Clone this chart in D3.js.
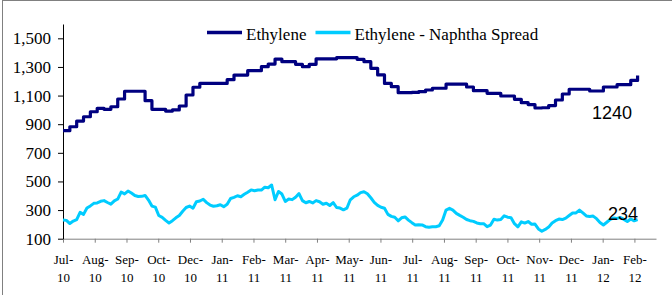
<!DOCTYPE html>
<html>
<head>
<meta charset="utf-8">
<script src="https://cdnjs.cloudflare.com/ajax/libs/d3/7.8.5/d3.min.js"></script>
<style>
body { margin: 0; background: #fff; }
text { font-family: "Liberation Serif", "Times New Roman", serif; fill: #000; }
</style>
</head>
<body>
<script>
//settings
var settings = {
  width: 672,
  height: 295,
  left: 63,
  right: 656,
  top: 24,
  bottom: 238.7,
  span: 18.1,      // data runs from first tick to just past the last one
  axisEnd: 18.68
}

//tick labels
var monthLabels = ['Jul-','Aug-','Sep-','Oct-','Dec-','Jan-','Feb-','Mar-','Apr-','May-','Jun-','Jul-','Aug-','Sep-','Oct-','Nov-','Dec-','Jan-','Feb-'];
var yearLabels = ['10','10','10','10','10','11','11','11','11','11','11','11','11','11','11','11','11','12','12'];
var yTicks = [100, 300, 500, 700, 900, 1100, 1300, 1500];

//series (weekly ethylene, spread sampled twice a week)
var seriesNames = ['Ethylene', 'Ethylene - Naphtha Spread'];
var ethylene = [855, 882, 922, 952, 987, 1011, 1004, 1022, 1076, 1130,
  1130, 1130, 1064, 1004, 1004, 992, 1000, 1027, 1104, 1158,
  1185, 1185, 1185, 1185, 1211, 1243, 1243, 1274, 1274, 1302,
  1320, 1355, 1337, 1337, 1318, 1302, 1318, 1357, 1357, 1357,
  1365, 1365, 1365, 1353, 1337, 1290, 1244, 1185, 1162, 1120,
  1120, 1122, 1127, 1139, 1151, 1151, 1180, 1180, 1180, 1160,
  1134, 1134, 1116, 1116, 1097, 1097, 1074, 1050, 1037, 1013,
  1015, 1030, 1069, 1111, 1144, 1144, 1144, 1132, 1132, 1160,
  1160, 1176, 1176, 1206, 1240];
var spread = [230, 228, 206, 223, 233, 284, 270, 314, 329, 347,
  350, 361, 366, 353, 341, 364, 377, 426, 413, 433,
  419, 402, 395, 396, 402, 370, 328, 321, 262, 249,
  228, 210, 226, 246, 262, 292, 318, 328, 313, 358,
  363, 376, 352, 335, 327, 330, 337, 324, 340, 381,
  389, 400, 393, 410, 425, 441, 435, 440, 440, 460,
  456, 475, 372, 430, 412, 360, 377, 373, 390, 415,
  366, 351, 360, 350, 366, 358, 341, 348, 332, 352,
  318, 314, 302, 313, 372, 393, 404, 422, 428, 414,
  386, 354, 333, 320, 313, 270, 256, 250, 225, 246,
  252, 230, 212, 196, 198, 196, 184, 180, 184, 184,
  190, 230, 300, 312, 300, 277, 263, 250, 234, 226,
  221, 210, 205, 205, 184, 195, 236, 230, 234, 260,
  250, 247, 205, 183, 218, 209, 220, 201, 202, 168,
  152, 165, 181, 210, 226, 237, 234, 244, 262, 280,
  280, 300, 280, 259, 255, 258, 240, 213, 196, 215,
  235, 244, 242, 248, 235, 220, 238, 225, 234];
var lastLabels = ['1240', '234'];

var colors = ['#000080', '#00ccff'];

var svg = d3.select('body').append('svg')
  .attr('width', settings.width)
  .attr('height', settings.height);

//frame
svg.append('rect')
  .attr('x', 2.5).attr('y', 0.5)
  .attr('width', 700).attr('height', 320)
  .attr('fill', 'none')
  .attr('stroke', '#808080');

var x = d3.scaleLinear().domain([0, settings.axisEnd]).range([settings.left, settings.right]);
var y = d3.scaleLinear().domain([100, 1600]).range([settings.bottom, settings.top]);

//x axis
var xAxis = svg.append('g')
  .attr('transform', 'translate(0,' + settings.bottom + ')')
  .call(d3.axisBottom(x).tickValues(d3.range(monthLabels.length)).tickSize(4).tickSizeOuter(0).tickFormat(''));
xAxis.selectAll('path, line').attr('stroke', '#808080');
xAxis.selectAll('.tick').append('text')
  .attr('text-anchor', 'middle')
  .style('font-size', '13px')
  .each(function(d, i) {
    d3.select(this).append('tspan').attr('x', 0).attr('y', 25.5).text(monthLabels[i]);
    d3.select(this).append('tspan').attr('x', 0).attr('y', 43).text(yearLabels[i]);
  });

//y axis
var yAxis = svg.append('g')
  .attr('transform', 'translate(' + settings.left + ',0)')
  .call(d3.axisLeft(y).tickValues(yTicks).tickSize(5).tickSizeOuter(0).tickPadding(7).tickFormat(d3.format(',')));
yAxis.selectAll('path, line').attr('stroke', '#000');
yAxis.selectAll('text')
  .style('font-size', '17px')
  .style('font-family', '"Liberation Serif", serif')
  .attr('fill', '#000');

//lines
var lineE = d3.line()
  .x(function(d, i) { return x(i / (ethylene.length - 1) * settings.span); })
  .y(function(d) { return y(d); })
  .curve(d3.curveStepAfter);
var lineS = d3.line()
  .x(function(d, i) { return x(i / (spread.length - 1) * settings.span); })
  .y(function(d) { return y(d); });

svg.append('path')
  .datum(spread)
  .attr('d', lineS)
  .attr('fill', 'none')
  .attr('stroke', colors[1])
  .attr('stroke-width', 3)
  .attr('stroke-linejoin', 'round');
svg.append('path')
  .datum(ethylene)
  .attr('d', lineE)
  .attr('fill', 'none')
  .attr('stroke', colors[0])
  .attr('stroke-width', 3.2)
  .attr('stroke-linejoin', 'round');

//last values
var lastVals = [ethylene[ethylene.length - 1], spread[spread.length - 1]];
svg.selectAll('.last')
  .data(lastLabels)
  .enter()
  .append('text')
  .attr('class', 'last')
  .attr('text-anchor', 'end')
  .attr('x', function(d, i) { return i == 0 ? 632 : 638; })
  .attr('y', function(d, i) { return i == 0 ? y(lastVals[i]) + 43 : y(lastVals[i]); })
  .style('font-family', '"Liberation Sans", Arial, sans-serif')
  .style('font-size', '18px')
  .text(function(d) { return d; });

//legend
var legendX = [207, 315.5];
var legend = svg.selectAll('.legend')
  .data(seriesNames)
  .enter()
  .append('g')
  .attr('class', 'legend')
  .attr('transform', function(d, i) { return 'translate(' + legendX[i] + ',32.5)'; });
legend.append('line')
  .attr('x1', 0).attr('x2', 35)
  .attr('stroke', function(d, i) { return colors[i]; })
  .attr('stroke-width', 3.5);
legend.append('text')
  .attr('x', 39).attr('y', 7.5)
  .style('font-size', '17px')
  .text(function(d) { return d; });
</script>
</body>
</html>
